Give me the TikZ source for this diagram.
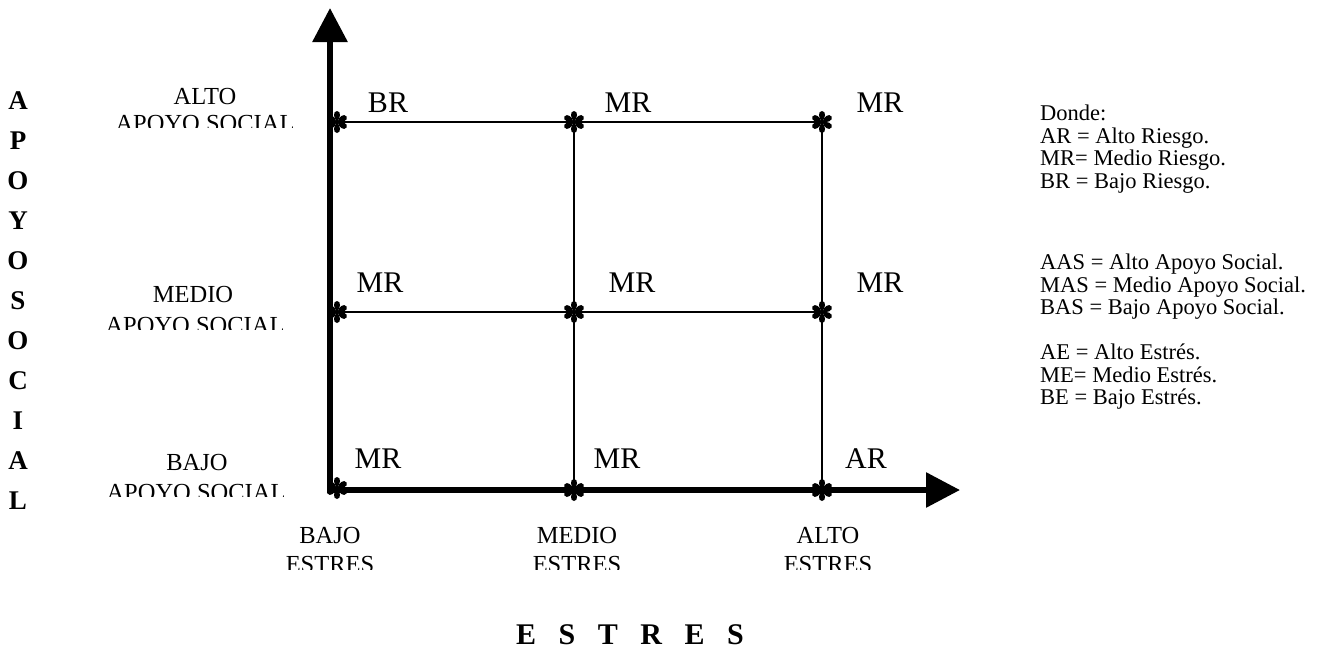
\documentclass[tikz,border=0pt]{standalone}
\usepackage{fontspec}
\setmainfont{Liberation Serif}
\usetikzlibrary{arrows.meta}
\tikzset{
  axis/.style={line width=6pt, -{Triangle[length=34pt,width=34pt]}},
  gridline/.style={line width=2pt},
  risk/.style={font=\fontsize{30}{30}\selectfont, inner sep=0, anchor=base},
  lab/.style={font=\fontsize{24.5}{24.5}\selectfont, inner sep=0, anchor=base},
  vlet/.style={font=\fontsize{27}{27}\selectfont\bfseries, inner sep=0, anchor=base},
  legend/.style={font=\fontsize{22.5}{22.5}\selectfont, inner sep=0, anchor=base west},
  title/.style={font=\fontsize{30}{30}\selectfont\bfseries, inner sep=0, anchor=base},
  asterisk/.pic={
    \foreach \a in {90,30,-30,-90,-150,150}{
      \fill[rotate=\a] (1,0) .. controls (3,-3.5) and (11,-4.5) .. (11,0)
        .. controls (11,4.5) and (3,3.5) .. (1,0);
    }
    \fill (0,0) circle (2.2);
  }
}
\begin{document}
\begin{tikzpicture}[x=1pt,y=-1pt]
\useasboundingbox (0,0) rectangle (1333,648);

% axes
\coordinate (O) at (330,490);
\coordinate (ybot) at (330,493);
\coordinate (ytip) at (330,8);
\coordinate (xleft) at (327,490);
\coordinate (xtip) at (960,490);
\draw[axis] (ybot) -- (ytip);
\draw[axis] (xleft) -- (xtip);

% grid points
\coordinate (a1) at (337,122);
\coordinate (a2) at (574,122);
\coordinate (a3) at (822,122);
\coordinate (m1) at (337,312);
\coordinate (m2) at (574,312);
\coordinate (m3) at (822,312);
\coordinate (b1) at (337,488);
\coordinate (b2) at (574,490);
\coordinate (b3) at (822,490);

\draw[gridline] (a1) -- (a3);
\draw[gridline] (m1) -- (m3);
\draw[gridline] (a2) -- (b2);
\draw[gridline] (a3) -- (b3);

\foreach \p in {a1,a2,a3,m1,m2,m3,b1,b2,b3}{
  \pic at (\p) {asterisk};
}

% risk labels
\node[risk] (rBR1) at (388,112) {BR};
\node[risk] (rMR2) at (628,112) {MR};
\node[risk] (rMR3) at (880,112) {MR};
\node[risk] (rMR4) at (380,292) {MR};
\node[risk] (rMR5) at (632,292) {MR};
\node[risk] (rMR6) at (880,292) {MR};
\node[risk] (rMR7) at (378,468) {MR};
\node[risk] (rMR8) at (617,468) {MR};
\node[risk] (rAR9) at (866,468) {AR};

% left labels (second line cut at the bottom as in the original)
\node[lab] (lAlto) at (205,104) {ALTO};
\begin{scope}
  \clip (80,105) rectangle (310,127);
  \node[lab] (lAltoS) at (205,131) {APOYO SOCIAL};
\end{scope}
\node[lab] (lMedio) at (193,302) {MEDIO};
\begin{scope}
  \clip (80,305) rectangle (310,329);
  \node[lab] (lMedioS) at (195,333) {APOYO SOCIAL};
\end{scope}
\node[lab] (lBajo) at (197,470) {BAJO};
\begin{scope}
  \clip (80,473) rectangle (310,496);
  \node[lab] (lBajoS) at (196,500) {APOYO SOCIAL};
\end{scope}

% bottom labels
\node[lab] (eBajo) at (330,543) {BAJO};
\node[lab] (eMedio) at (577,543) {MEDIO};
\node[lab] (eAlto) at (828,543) {ALTO};
\begin{scope}
  \clip (250,546) rectangle (950,569);
  \node[lab] (eBajoS) at (330,572) {ESTRES};
  \node[lab] (eMedioS) at (577,572) {ESTRES};
  \node[lab] (eAltoS) at (828,572) {ESTRES};
\end{scope}

% axis titles
\node[title] (xtitle) at (630,644) {E\hspace{0.75em}S\hspace{0.75em}T\hspace{0.75em}R\hspace{0.75em}E\hspace{0.75em}S};
\foreach \l [count=\i from 0] in {A,P,O,Y,O,S,O,C,I,A,L}{
  \node[vlet] (v\i) at (18,109+40*\i) {\l};
}

% legend
\node[legend] (d0) at (1040,120) {Donde:};
\node[legend] (d1) at (1040,143) {AR = Alto Riesgo.};
\node[legend] (d2) at (1040,165) {MR= Medio Riesgo.};
\node[legend] (d3) at (1040,188) {BR = Bajo Riesgo.};
\node[legend] (d4) at (1040,269) {AAS = Alto Apoyo Social.};
\node[legend] (d5) at (1040,292) {MAS = Medio Apoyo Social.};
\node[legend] (d6) at (1040,314) {BAS = Bajo Apoyo Social.};
\node[legend] (d7) at (1040,359) {AE = Alto Estrés.};
\node[legend] (d8) at (1040,382) {ME= Medio Estrés.};
\node[legend] (d9) at (1040,404) {BE = Bajo Estrés.};
\end{tikzpicture}
\end{document}
